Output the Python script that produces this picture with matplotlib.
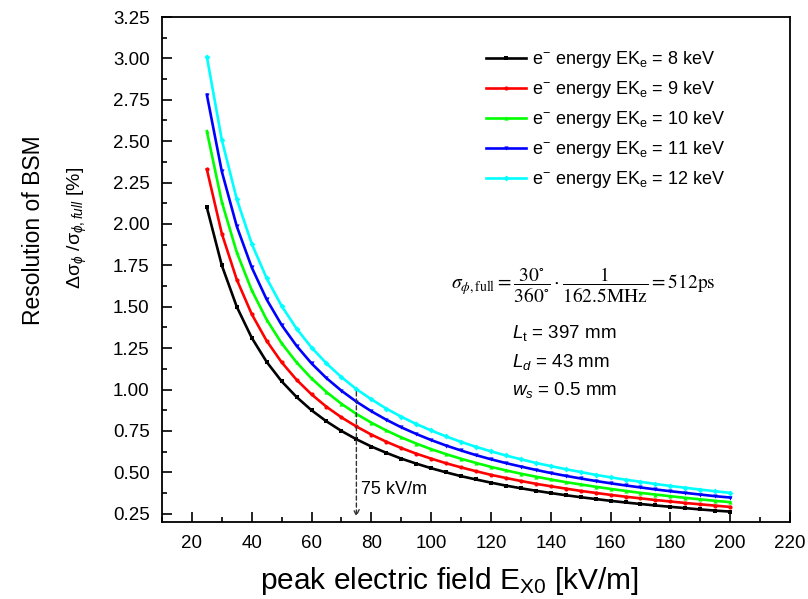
import matplotlib
matplotlib.use("Agg")
import matplotlib.pyplot as plt
from matplotlib.ticker import MultipleLocator

plt.rcParams["font.family"] = ["Liberation Sans", "DejaVu Sans"]
plt.rcParams["mathtext.fontset"] = "custom"
plt.rcParams["mathtext.rm"] = "Liberation Sans"
plt.rcParams["mathtext.it"] = "Liberation Sans:italic"
plt.rcParams["mathtext.bf"] = "Liberation Sans:bold"

# peak electric field [kV/m]
field = [25, 30, 35, 40, 45, 50, 55, 60, 65, 70, 75, 80, 85, 90, 95, 100,
         105, 110, 115, 120, 125, 130, 135, 140, 145, 150, 155, 160, 165,
         170, 175, 180, 185, 190, 195, 200]

# resolution [%] for each electron energy
res_8kev = [2.100, 1.750, 1.500, 1.313, 1.167, 1.050, 0.955, 0.875, 0.808,
            0.750, 0.700, 0.656, 0.618, 0.583, 0.553, 0.525, 0.500, 0.477,
            0.457, 0.438, 0.420, 0.404, 0.389, 0.375, 0.362, 0.350, 0.339,
            0.328, 0.318, 0.309, 0.300, 0.292, 0.284, 0.276, 0.269, 0.263]
res_9kev = [2.330, 1.942, 1.664, 1.456, 1.294, 1.165, 1.059, 0.971, 0.896,
            0.832, 0.777, 0.728, 0.685, 0.647, 0.613, 0.583, 0.555, 0.530,
            0.507, 0.485, 0.466, 0.448, 0.431, 0.416, 0.402, 0.388, 0.376,
            0.364, 0.353, 0.343, 0.333, 0.324, 0.315, 0.307, 0.299, 0.291]
res_10kev = [2.560, 2.133, 1.829, 1.600, 1.422, 1.280, 1.164, 1.067, 0.985,
             0.914, 0.853, 0.800, 0.753, 0.711, 0.674, 0.640, 0.610, 0.582,
             0.557, 0.533, 0.512, 0.492, 0.474, 0.457, 0.441, 0.427, 0.413,
             0.400, 0.388, 0.376, 0.366, 0.356, 0.346, 0.337, 0.328, 0.320]
res_11kev = [2.780, 2.317, 1.986, 1.738, 1.544, 1.390, 1.264, 1.158, 1.069,
             0.993, 0.927, 0.869, 0.818, 0.772, 0.732, 0.695, 0.662, 0.632,
             0.604, 0.579, 0.556, 0.535, 0.515, 0.496, 0.479, 0.463, 0.448,
             0.434, 0.421, 0.409, 0.397, 0.386, 0.376, 0.366, 0.356, 0.348]
res_12kev = [3.010, 2.508, 2.150, 1.881, 1.672, 1.505, 1.368, 1.254, 1.158,
             1.075, 1.003, 0.941, 0.885, 0.836, 0.792, 0.753, 0.717, 0.684,
             0.654, 0.627, 0.602, 0.579, 0.557, 0.538, 0.519, 0.502, 0.485,
             0.470, 0.456, 0.443, 0.430, 0.418, 0.407, 0.396, 0.386, 0.376]

energies = [8, 9, 10, 11, 12]
series = [res_8kev, res_9kev, res_10kev, res_11kev, res_12kev]
colors = ["black", "#ff0000", "#00ff00", "#0000ff", "#00ffff"]
markers = ["s", "o", "^", "v", "D"]

fig = plt.figure(figsize=(8.08, 5.99), dpi=100)
ax = fig.add_axes([0.2005, 0.1285, 0.7772, 0.8431])

for e, vals, c, m in zip(energies, series, colors, markers):
    ax.plot(field, vals, color=c, lw=1.9, marker=m, ms=3, mew=0,
            label=f"e$^{{-}}$ energy EK$_{{\\rm e}}$ = {e} keV")

ax.set_xlim(10, 220)
ax.set_ylim(0.20, 3.25)
ax.xaxis.set_major_locator(MultipleLocator(20))
ax.xaxis.set_minor_locator(MultipleLocator(10))
ax.set_yticks([0.25 * i for i in range(1, 14)])
ax.yaxis.set_minor_locator(MultipleLocator(0.125))
ax.yaxis.set_major_formatter(plt.FormatStrFormatter("%.2f"))

ax.tick_params(which="both", direction="in", top=False, right=False,
               labelsize=13.5, width=1.2, pad=9)
ax.tick_params(which="major", length=7.5)
ax.tick_params(which="minor", length=3.6)
for sp in ax.spines.values():
    sp.set_linewidth(1.3)

# axis labels
fig.text(0.556, 0.030, "peak electric field E$_{\\rm X0}$ [kV/m]",
         fontsize=21.5, ha="center", va="center")
fig.text(0.041, 0.615, "Resolution of BSM", fontsize=16.5, rotation=90,
         ha="center", va="center")
fig.text(0.096, 0.62, "Δσ$_{\\phi}$ /σ$_{\\mathit{\\phi,full}}$ [%]",
         fontsize=14, rotation=90, ha="center", va="center")

ax.legend(loc="upper left", bbox_to_anchor=(0.602, 1 - 49 / 599),
          bbox_transform=fig.transFigure, frameon=False, fontsize=13,
          handlelength=2.2, handletextpad=0.3, labelspacing=0.5,
          borderpad=0, borderaxespad=0)

# annotations
ax.text(106.5, 1.63,
        r"$\sigma_{\phi,\mathrm{full}} = \dfrac{30^{\circ}}{360^{\circ}}"
        r"\cdot\dfrac{1}{162.5\mathrm{MHz}} = 512\mathrm{ps}$",
        fontsize=14, math_fontfamily="stix", va="center")
ax.text(127, 1.34, "$L_{\\rm t}$ = 397 mm", fontsize=13.5, va="center")
ax.text(127, 1.165, "$L_{d}$ = 43 mm", fontsize=13.5, va="center")
ax.text(127, 1.0, "$w_{s}$ = 0.5 mm", fontsize=13.5, va="center")

ax.annotate("", xy=(75, 0.215), xytext=(75, 1.003),
            arrowprops=dict(arrowstyle="->", color="#333333", lw=1,
                            linestyle=(0, (3, 2))))
ax.text(76.5, 0.395, "75 kV/m", fontsize=13, va="center")

fig.savefig("out.png", dpi=100)
